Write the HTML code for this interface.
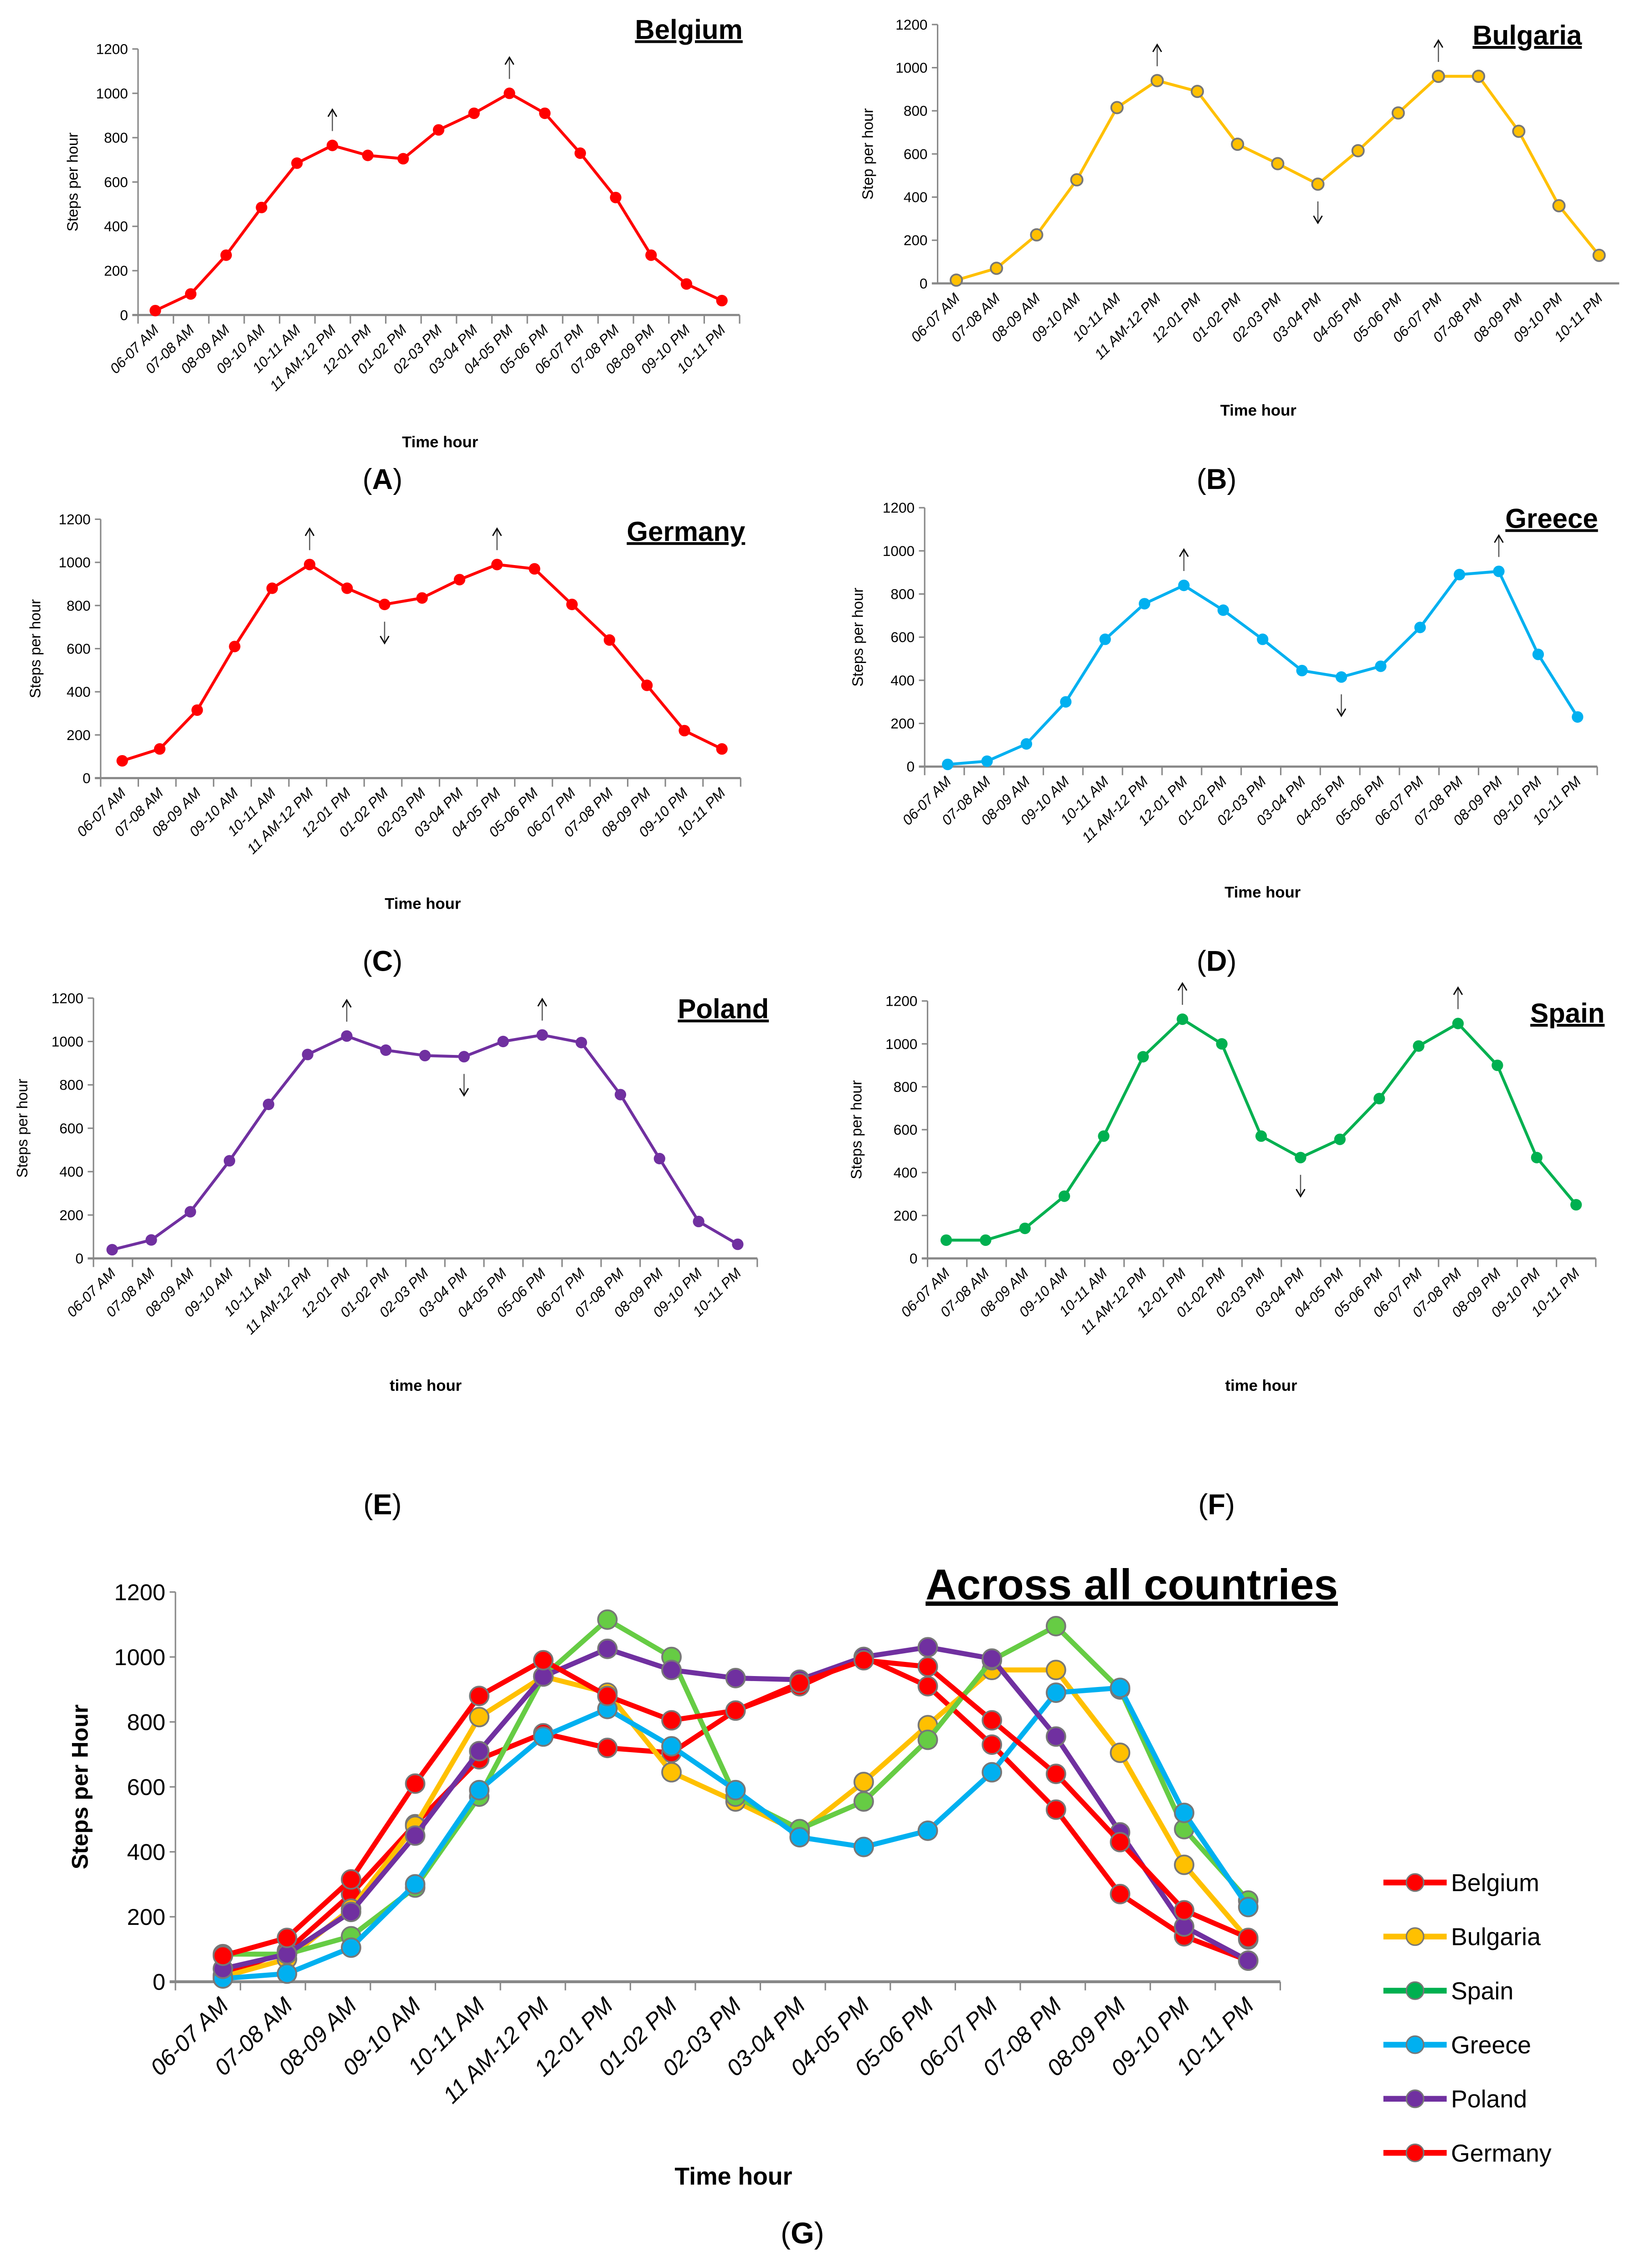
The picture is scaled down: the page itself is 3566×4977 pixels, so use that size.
<!DOCTYPE html>
<html><head><meta charset="utf-8">
<style>
html,body{margin:0;padding:0;background:#fff;}
svg{display:block;}
text{font-family:"Liberation Sans",sans-serif;}
</style></head>
<body>
<svg id="fig" width="3566" height="4977" viewBox="0 0 1130 1577" xmlns="http://www.w3.org/2000/svg"></svg>
<script>
const categories=["06-07 AM","07-08 AM","08-09 AM","09-10 AM","10-11 AM","11 AM-12 PM","12-01 PM","01-02 PM","02-03 PM","03-04 PM","04-05 PM","05-06 PM","06-07 PM","07-08 PM","08-09 PM","09-10 PM","10-11 PM"];
const yTicks=[0,200,400,600,800,1000,1200];
const belgium=[20,95,270,485,685,765,720,705,835,910,1000,910,730,530,270,140,65];
const bulgaria=[15,70,225,480,815,940,890,645,555,460,615,790,960,960,705,360,130];
const germany=[80,135,315,610,880,990,880,805,835,920,990,970,805,640,430,220,135];
const greece=[10,25,105,300,590,755,840,725,590,445,415,465,645,890,905,520,230];
const poland=[40,85,215,450,710,940,1025,960,935,930,1000,1030,995,755,460,170,65];
const spain=[85,85,140,290,570,940,1115,1000,570,470,555,745,990,1095,900,470,250];
const belgiumUp=[5,10], belgiumDown=[];
const bulgariaUp=[5,12], bulgariaDown=[9];
const germanyUp=[5,10], germanyDown=[7];
const greeceUp=[6,14], greeceDown=[10];
const polandUp=[6,11], polandDown=[9];
const spainUp=[6,13], spainDown=[9];

const NS="http://www.w3.org/2000/svg";
const svg=document.getElementById('fig');
function el(tag,attrs,parent){const e=document.createElementNS(NS,tag);for(const k in attrs)e.setAttribute(k,attrs[k]);(parent||svg).appendChild(e);return e;}
function txt(s,attrs,parent){const e=el('text',attrs,parent);e.textContent=s;return e;}

function panel(p){
  const g=el('g',{});
  
  
  const n=categories.length;
  const step=(p.xl-p.xf)/(n-1);
  const xs=i=>p.xf+i*step;
  const ys=v=>p.y0-(v/1200)*(p.y0-p.y1);
  const ya=el('line',{x1:p.ax,y1:p.y1,x2:p.ax,y2:p.y0,stroke:'#888','stroke-width':1},g);
  
  const xEnd=p.xl+step/2;
  const xa=el('line',{x1:p.ax-4,y1:p.y0,x2:xEnd,y2:p.y0,stroke:'#888','stroke-width':p.big?2:1.5},g);
  
  yTicks.forEach(t=>{
    el('line',{x1:p.ax-4,y1:ys(t),x2:p.ax,y2:ys(t),stroke:'#888','stroke-width':1},g);
    const l=txt(String(t),{x:p.ax-7,y:ys(t)+p.fs*0.35,'text-anchor':'end','font-size':p.fs,fill:'#000'},g);
    
  });
  if(p.ticks){for(let i=0;i<=n;i++){const x=p.ax+(xEnd-p.ax)*i/n;el('line',{x1:x,y1:p.y0,x2:x,y2:p.y0+6,stroke:'#888','stroke-width':1},g);}}
  categories.forEach((c,i)=>{
    const x=xs(i)+p.fs*0.3, y=p.y0+p.fs*1.1;
    const l=txt(c,{x:x,y:y,'text-anchor':'end','font-size':p.fs,fill:'#000','font-style':'italic',transform:`rotate(-45 ${x} ${y})`},g);
    
  });
  p.series.forEach(s=>{
    const sg=el('g',{},g);
    
    const pts=s.data.map((v,i)=>xs(i)+','+ys(v)).join(' ');
    const pl=el('polyline',{points:pts,fill:'none',stroke:s.color,'stroke-width':p.lw,'stroke-linejoin':'round'},sg);
    
    s.data.forEach((v,i)=>{
      const c=el('circle',{cx:xs(i),cy:ys(v),r:p.r,fill:s.color,stroke:p.outline||s.color,'stroke-width':p.outline?1.2:0},sg);
      
    });
  });
  (p.up||[]).forEach(i=>{
    const x=xs(i), y=ys(p.series[0].data[i])-10;
    el('line',{x1:x,y1:y-14,x2:x,y2:y,stroke:'#555','stroke-width':0.8},g);
    el('path',{d:`M${x-3} ${y-10} L${x} ${y-15} L${x+3} ${y-10}`,fill:'none',stroke:'#000','stroke-width':0.9},g);
  });
  (p.down||[]).forEach(i=>{
    const x=xs(i), y=ys(p.series[0].data[i])+12;
    el('line',{x1:x,y1:y,x2:x,y2:y+14,stroke:'#555','stroke-width':0.8},g);
    el('path',{d:`M${x-3} ${y+10} L${x} ${y+15} L${x+3} ${y+10}`,fill:'none',stroke:'#000','stroke-width':0.9},g);
  });
  const t=txt(p.title,{x:p.tx,y:p.ty,'text-anchor':'middle','font-size':p.tfs,'font-weight':'bold',fill:'#000','text-decoration':'underline'},g);
  
  const yl=txt(p.ylab,{x:p.ylx,y:(p.y0+p.y1)/2,'text-anchor':'middle','font-size':p.yfs,'font-weight':p.big?'bold':'normal',fill:'#000',transform:`rotate(-90 ${p.ylx} ${(p.y0+p.y1)/2})`},g);
  
  const xl=txt(p.xlab,{x:p.xlx,y:p.xly,'text-anchor':'middle','font-size':p.xfs,'font-weight':'bold',fill:'#000'},g);
  
  const pl=el('text',{x:p.lx,y:p.ly,'text-anchor':'middle','font-size':p.big?21:20,fill:'#000','font-family':'Liberation Serif, serif'},g);
  
  const t1=el('tspan',{},pl);t1.textContent='(';
  const t2=el('tspan',{'font-weight':'bold'},pl);t2.textContent=p.label;
  const t3=el('tspan',{},pl);t3.textContent=')';
}
const small={fs:10,lw:2,r:4,tfs:19,yfs:10.5,xfs:11,ticks:true,big:false};
panel(Object.assign({},small,{name:'belgium',title:'Belgium',tx:479,ty:27,ax:96,y0:219,y1:34,xf:108,xl:502,series:[{name:'belgium',data:belgium,color:'#ff0000'}],up:belgiumUp,down:belgiumDown,ylab:'Steps per hour',ylx:54,xlab:'Time hour',xlx:306,xly:311,label:'A',lx:266,ly:340}));
panel(Object.assign({},small,{name:'bulgaria',title:'Bulgaria',tx:1062,ty:31,ax:652,y0:197,y1:17,xf:665,xl:1112,series:[{name:'bulgaria',data:bulgaria,color:'#ffc000'}],outline:'#777',ticks:false,up:bulgariaUp,down:bulgariaDown,ylab:'Step per hour',ylx:607,xlab:'Time hour',xlx:875,xly:289,label:'B',lx:846,ly:340}));
panel(Object.assign({},small,{name:'germany',title:'Germany',tx:477,ty:376,ax:70,y0:541,y1:361,xf:85,xl:502,series:[{name:'germany',data:germany,color:'#ff0000'}],up:germanyUp,down:germanyDown,ylab:'Steps per hour',ylx:28,xlab:'Time hour',xlx:294,xly:632,label:'C',lx:266,ly:675}));
panel(Object.assign({},small,{name:'greece',title:'Greece',tx:1079,ty:367,ax:643,y0:533,y1:353,xf:659,xl:1097,series:[{name:'greece',data:greece,color:'#00b0f0'}],up:greeceUp,down:greeceDown,ylab:'Steps per hour',ylx:600,xlab:'Time hour',xlx:878,xly:624,label:'D',lx:846,ly:675}));
panel(Object.assign({},small,{name:'poland',title:'Poland',tx:503,ty:708,ax:65,y0:875,y1:694,xf:78,xl:513,series:[{name:'poland',data:poland,color:'#7030a0'}],up:polandUp,down:polandDown,ylab:'Steps per hour',ylx:19,xlab:'time hour',xlx:296,xly:967,label:'E',lx:266,ly:1053}));
panel(Object.assign({},small,{name:'spain',title:'Spain',tx:1090,ty:711,ax:645,y0:875,y1:696,xf:658,xl:1096,series:[{name:'spain',data:spain,color:'#00b050'}],up:spainUp,down:spainDown,ylab:'Steps per hour',ylx:599,xlab:'time hour',xlx:877,xly:967,label:'F',lx:846,ly:1053}));
const allSeries=[
 {name:'belgium',data:belgium,color:'#ff0000'},
 {name:'bulgaria',data:bulgaria,color:'#ffc000'},
 {name:'spain',data:spain,color:'#66cc44'},
 {name:'greece',data:greece,color:'#00b0f0'},
 {name:'poland',data:poland,color:'#7030a0'},
 {name:'germany',data:germany,color:'#ff0000'}];
panel({name:'all-countries',title:'Across all countries',tx:787,ty:1112,tfs:30,fs:16,lw:3.5,r:6.5,yfs:16,xfs:17,ticks:true,big:true,ax:122,y0:1378,y1:1107,xf:155,xl:868,series:allSeries,outline:'#777',up:[],down:[],ylab:'Steps per Hour',ylx:61,xlab:'Time hour',xlx:510,xly:1519,label:'G',lx:558,ly:1560});
const legendNames=['Belgium','Bulgaria','Spain','Greece','Poland','Germany'];
const legendColors=['#ff0000','#ffc000','#00b050','#00b0f0','#7030a0','#ff0000'];
legendNames.forEach((nm,i)=>{
  const y=1309+i*37.6;
  const lg=el('g',{});
  
  el('line',{x1:962,y1:y,x2:1006,y2:y,stroke:legendColors[i],'stroke-width':4},lg);
  el('circle',{cx:984,cy:y,r:6,fill:legendColors[i],stroke:'#777','stroke-width':1},lg);
  txt(nm,{x:1009,y:y+6,'font-size':17,fill:'#000'},lg);
});
</script>
</body></html>
